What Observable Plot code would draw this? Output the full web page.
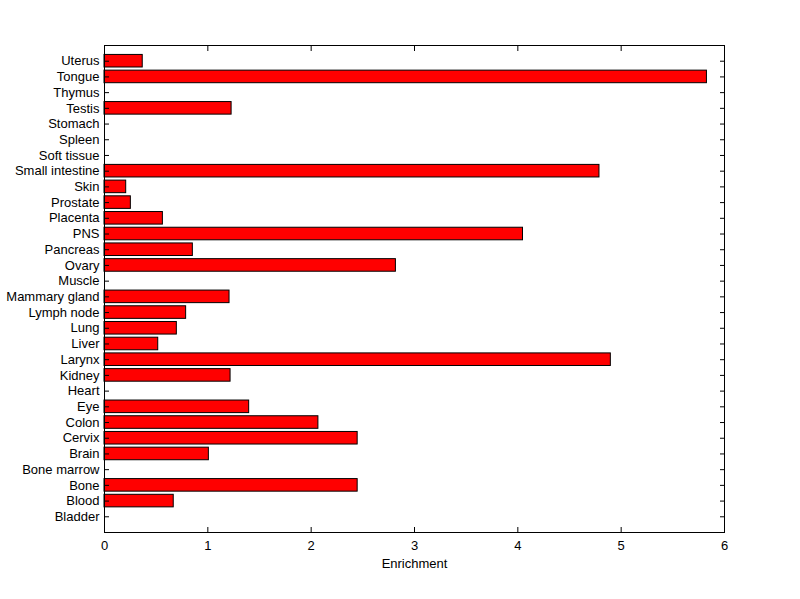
<!DOCTYPE html>
<html>
<head>
<meta charset="utf-8">
<script src="https://cdn.jsdelivr.net/npm/d3@7"></script>
<script src="https://cdn.jsdelivr.net/npm/@observablehq/plot@0.6"></script>
<style>
  html, body { margin: 0; padding: 0; background: #fff; }
  #chart svg { display: block; }
</style>
</head>
<body>
<div id="chart"></div>
<script>
// Categories listed bottom (first) to top (last), as in the reference
const tissues = ["Bladder", "Blood", "Bone", "Bone marrow", "Brain", "Cervix", "Colon", "Eye", "Heart", "Kidney",
  "Larynx", "Liver", "Lung", "Lymph node", "Mammary gland", "Muscle", "Ovary", "Pancreas", "PNS", "Placenta",
  "Prostate", "Skin", "Small intestine", "Soft tissue", "Spleen", "Stomach", "Testis", "Thymus", "Tongue", "Uterus"];
const enrichment = [0, 0.67, 2.45, 0, 1.01, 2.45, 2.07, 1.40, 0, 1.22,
  4.90, 0.52, 0.70, 0.79, 1.21, 0, 2.82, 0.855, 4.05, 0.565,
  0.255, 0.21, 4.79, 0, 0, 0, 1.23, 0, 5.83, 0.37];
const xTicks = [0, 1, 2, 3, 4, 5, 6];
const xLabel = "Enrichment";

const data = tissues.map((t, i) => ({tissue: t, value: enrichment[i]}));
const barsData = data.filter(d => d.value > 0);
const yDomain = tissues.slice().reverse();

const chart = Plot.plot({
  width: 800,
  height: 599,
  marginLeft: 104,
  marginRight: 76,
  marginTop: 45,
  marginBottom: 67,
  style: {fontFamily: "Liberation Sans, Arial, sans-serif", fontSize: "13px", color: "#000", background: "#fff"},
  x: {domain: [0, 6]},
  y: {type: "band", domain: yDomain, paddingInner: 0.2, paddingOuter: 0.6, round: false},
  marks: [
    Plot.barX(barsData, {x: "value", y: "tissue", fill: "#ff0000", stroke: "#000", strokeWidth: 1}),
    Plot.frame({stroke: "#000", strokeWidth: 1}),
    Plot.axisX(xTicks, {anchor: "bottom", tickSize: -5, tickPadding: 13, label: xLabel, labelAnchor: "center", labelArrow: "none", labelOffset: 35, fontSize: 13}),
    Plot.axisX(xTicks, {anchor: "top", tickSize: -5, tickFormat: () => "", label: null}),
    Plot.axisY({anchor: "left", tickSize: -5, tickPadding: 10, label: null, fontSize: 13}),
    Plot.axisY({anchor: "right", tickSize: -5, tickFormat: () => "", label: null})
  ]
});
document.getElementById("chart").appendChild(chart);
</script>
</body>
</html>
